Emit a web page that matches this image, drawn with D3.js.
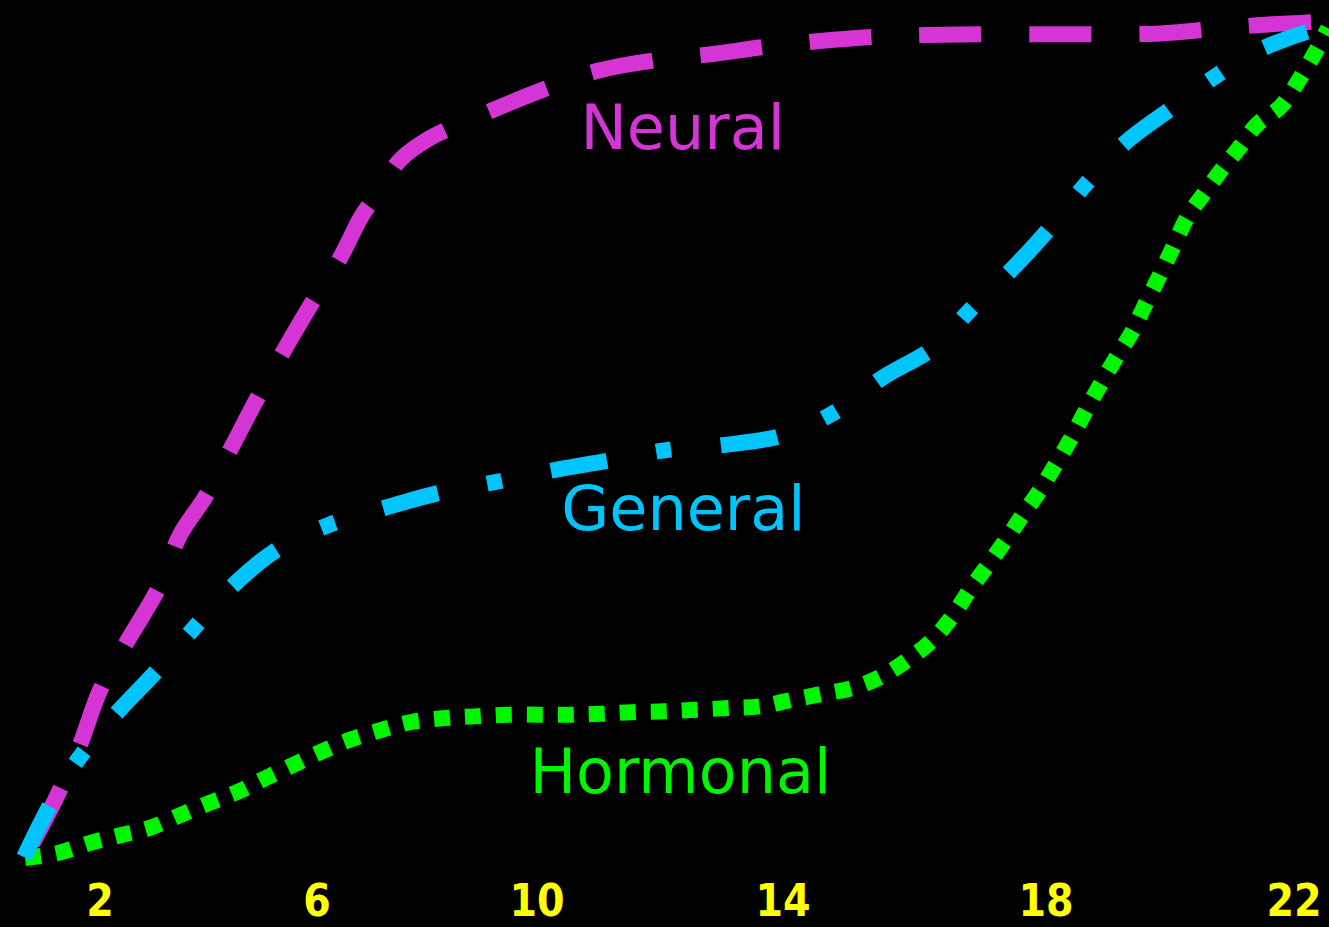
<!DOCTYPE html>
<html>
<head>
<meta charset="utf-8">
<script src="https://cdn.jsdelivr.net/npm/d3@7/dist/d3.min.js"></script>
<style>
  html, body { margin: 0; padding: 0; background: #000; }
  svg { display: block; }
</style>
</head>
<body>
<svg id="chart" width="1329" height="927"></svg>
<script>
// ---- Data (age in years, size as % of adult value) ----
const tickAges = [2, 6, 10, 14, 18, 22];

const neural = [
  [0.67, 0.7], [1.17, 6.9], [1.63, 13.5], [2.0, 20.0], [2.46, 25.4], [3.11, 32.6],
  [3.47, 38.5], [3.94, 43.1], [4.40, 48.7], [4.91, 55.0], [5.50, 61.8], [5.96, 66.8],
  [6.42, 71.6], [6.82, 76.7], [7.15, 79.7], [7.51, 83.3], [8.05, 85.9], [8.78, 88.1],
  [10.21, 92.0], [11.02, 94.0], [11.92, 95.2], [12.81, 95.9], [13.71, 96.8],
  [14.56, 97.5], [15.40, 98.0], [16.16, 98.2], [17.30, 98.3], [18.87, 98.3],
  [19.84, 98.4], [20.65, 98.9], [21.45, 99.4], [22.42, 99.8]
];

const general = [
  [0.60, 0.1], [1.08, 6.3], [1.59, 11.7], [2.28, 17.1], [3.01, 22.1], [3.70, 27.2],
  [4.40, 32.2], [5.26, 36.8], [6.20, 39.7], [7.24, 41.8], [8.24, 43.6], [9.27, 44.9],
  [10.29, 46.3], [11.22, 47.5], [12.13, 48.7], [13.06, 49.3], [14.03, 50.5],
  [14.79, 53.2], [15.51, 57.3], [16.31, 61.0], [16.87, 65.6], [17.50, 70.4],
  [18.10, 75.5], [18.63, 80.3], [19.27, 85.3], [20.03, 89.5], [20.56, 92.4],
  [21.37, 96.2], [22.21, 98.6]
];

const hormonal = [
  [0.62, 0.0], [1.23, 0.6], [1.82, 1.8], [2.37, 2.7], [2.92, 3.6], [3.47, 5.1],
  [4.03, 6.6], [4.54, 7.9], [5.04, 9.5], [5.56, 11.1], [6.05, 12.6], [6.60, 14.1],
  [7.18, 15.3], [7.69, 16.2], [8.33, 16.7], [8.87, 16.9], [9.45, 17.1], [10.05, 17.1],
  [10.54, 17.1], [11.02, 17.2], [11.54, 17.4], [12.08, 17.5], [12.60, 17.7],
  [13.14, 17.9], [13.63, 18.1], [14.15, 18.9], [14.61, 19.6], [15.06, 20.3],
  [15.48, 21.6], [15.89, 23.6], [16.27, 26.0], [16.59, 29.0], [16.84, 32.0],
  [17.12, 35.0], [17.42, 38.3], [17.64, 40.9], [17.91, 43.9], [18.15, 46.9],
  [18.39, 49.9], [18.63, 53.2], [18.87, 56.4], [19.13, 59.7], [19.39, 62.8],
  [19.61, 66.2], [19.84, 69.6], [20.05, 72.9], [20.29, 76.6], [20.56, 79.4],
  [20.85, 82.3], [21.10, 84.6], [21.40, 87.5], [21.79, 89.7], [22.06, 92.6],
  [22.34, 96.1], [22.55, 99.0]
];

const seriesNames = ["Neural", "Hormonal", "General"];
const labelAnchors = [[12.37, 84.6], [12.33, 7.8], [12.38, 39.1]]; // age, % for each label

// ---- Scales ----
const x = d3.scaleLinear()
  .domain(tickAges)
  .range([100, 317, 537, 783, 1046, 1294]);
const y = d3.scaleLinear().domain([0, 100]).range([858, 20]);

const svg = d3.select("#chart");
svg.append("rect").attr("width", 1329).attr("height", 927).attr("fill", "#000");

const line = d3.line()
  .x(d => x(d[0]))
  .y(d => y(d[1]))
  .curve(d3.curveCatmullRom.alpha(0.5));

const styles = {
  Neural:   { color: "#d535d5", dash: "62 48", offset: -10 },
  Hormonal: { color: "#00f500", dash: "16 15", offset: 0 },
  General:  { color: "#00c5fc", dash: "57 50 15 50", offset: 0 }
};
const dataBy = { Neural: neural, Hormonal: hormonal, General: general };

seriesNames.forEach(name => {
  svg.append("path")
    .datum(dataBy[name])
    .attr("d", line)
    .attr("fill", "none")
    .attr("stroke", styles[name].color)
    .attr("stroke-width", 16)
    .attr("stroke-linecap", "butt")
    .attr("stroke-linejoin", "round")
    .attr("stroke-dasharray", styles[name].dash)
    .attr("stroke-dashoffset", styles[name].offset);
});

// ---- Series labels ----
seriesNames.forEach((name, i) => {
  svg.append("text")
    .attr("x", x(labelAnchors[i][0]))
    .attr("y", y(labelAnchors[i][1]))
    .attr("text-anchor", "middle")
    .attr("font-family", "'DejaVu Sans', Verdana, sans-serif")
    .attr("font-size", 62)
    .attr("fill", styles[name].color)
    .text(name);
});

// ---- X tick labels ----
svg.append("g")
  .selectAll("text")
  .data(tickAges)
  .join("text")
  .attr("x", d => x(d))
  .attr("y", 916)
  .attr("text-anchor", "middle")
  .attr("font-family", "'DejaVu Sans Condensed', 'DejaVu Sans', sans-serif")
  .attr("font-stretch", "condensed")
  .attr("font-weight", "bold")
  .attr("font-size", 44)
  .attr("fill", "#ffff00")
  .text(d => d);
</script>
</body>
</html>
